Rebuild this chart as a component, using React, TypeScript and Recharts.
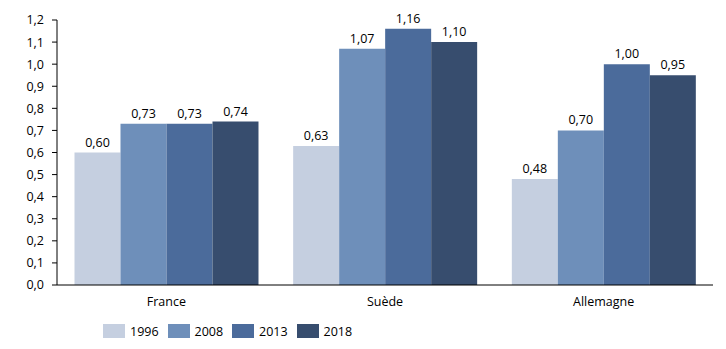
import { Bar, BarChart, LabelList, Legend, XAxis, YAxis } from "recharts";

const categories = ["France", "Suède", "Allemagne"];
const years = ["1996", "2008", "2013", "2018"];
const values1996 = [0.6, 0.63, 0.48];
const values2008 = [0.73, 1.07, 0.7];
const values2013 = [0.73, 1.16, 1.0];
const values2018 = [0.74, 1.1, 0.95];
const yTicks = [0, 0.1, 0.2, 0.3, 0.4, 0.5, 0.6, 0.7, 0.8, 0.9, 1.0, 1.1, 1.2];

const COLORS = ["#c5cfe0", "#6e8fba", "#4b6b9b", "#374d6e"];
const FONT = "'Open Sans', 'Noto Sans', sans-serif";

const series = [values1996, values2008, values2013, values2018];
const data = categories.map((name, i) => {
  const row: Record<string, string | number> = { name };
  years.forEach((y, k) => {
    row[y] = series[k][i];
  });
  return row;
});

const fmt = (v: number) => v.toFixed(1).replace(".", ",");
const fmt2 = (v: number) => v.toFixed(2).replace(".", ",");

function LegendBox() {
  return (
    <div style={{ height: 34, boxSizing: "border-box", paddingTop: 7, display: "flex", marginLeft: 103, fontFamily: FONT, fontSize: 12.5, color: "#000" }}>
      {years.map((y, k) => (
        <div key={y} style={{ display: "flex", alignItems: "center", height: 18, width: 64.5 }}>
          <span style={{ width: 22, height: 14, background: COLORS[k], display: "inline-block", marginRight: 5 }} />
          <span>{y}</span>
        </div>
      ))}
    </div>
  );
}

export default function App() {
  return (
    <div style={{ position: "absolute", left: 0, top: 0, background: "#fff" }}>
      <BarChart
        width={726}
        height={349}
        data={data}
        margin={{ top: 20, right: 13, left: 0, bottom: 0 }}
        barCategoryGap="8%"
        barGap={0}
      >
        <XAxis
          dataKey="name"
          tickLine={false}
          axisLine={{ stroke: "#000" }}
          tick={{ fontSize: 12.5, fill: "#000", fontFamily: FONT }}
          height={30}
          tickMargin={6}
        />
        <YAxis
          width={57}
          domain={[0, 1.2]}
          ticks={yTicks}
          interval={0}
          tickFormatter={fmt}
          axisLine={{ stroke: "#000" }}
          tickLine={{ stroke: "#000" }}
          tickSize={5}
          tick={{ fontSize: 12.5, fill: "#000", fontFamily: FONT }}
          tickMargin={8}
        />
        <Legend verticalAlign="bottom" content={() => <LegendBox />} wrapperStyle={{ bottom: 0, height: 34 }} />
        {years.map((y, k) => (
          <Bar key={y} dataKey={y} fill={COLORS[k]} isAnimationActive={false}>
            <LabelList
              dataKey={y}
              position="top"
              offset={6}
              formatter={(v: number) => fmt2(v)}
              style={{ fontSize: 12.5, fill: "#000", fontFamily: FONT }}
            />
          </Bar>
        ))}
      </BarChart>
    </div>
  );
}
